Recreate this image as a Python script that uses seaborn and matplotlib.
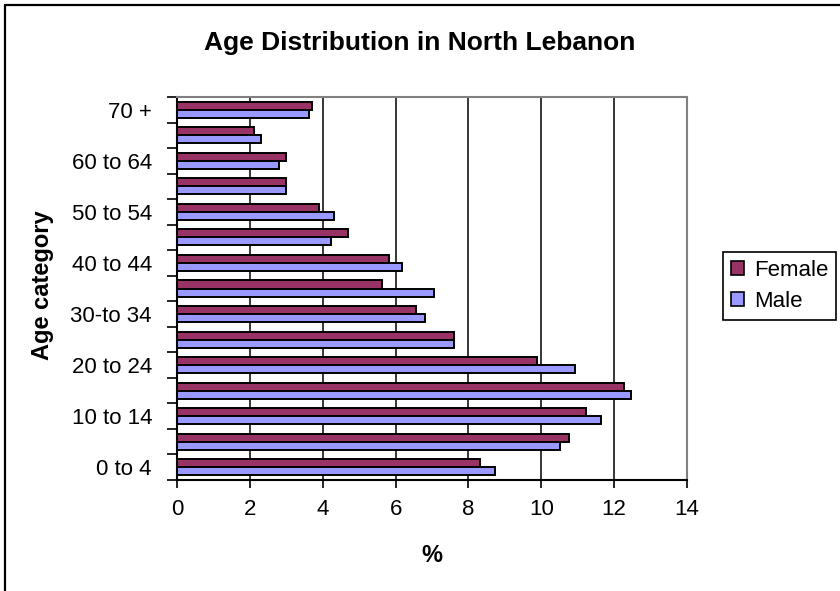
import numpy as np
import pandas as pd
import matplotlib
matplotlib.use("Agg")
import matplotlib.pyplot as plt
import seaborn as sns
from matplotlib.lines import Line2D
from matplotlib.patches import Patch

# Age bands, listed from the top of the chart downwards
age_groups = ["70 +", "65 to 69", "60 to 64", "55 to 59", "50 to 54",
              "45 to 49", "40 to 44", "35 to 39", "30-to 34", "25 to 29",
              "20 to 24", "15 to 19", "10 to 14", "5 to 9", "0 to 4"]
female_pct = [3.7, 2.1, 3.0, 3.0, 3.89, 4.69, 5.83, 5.64, 6.55, 7.61,
              9.89, 12.27, 11.24, 10.77, 8.31]
male_pct = [3.62, 2.3, 2.81, 3.0, 4.31, 4.23, 6.19, 7.05, 6.81, 7.61,
            10.93, 12.46, 11.65, 10.52, 8.74]
shown_labels = ["70 +", "60 to 64", "50 to 54", "40 to 44",
                "30-to 34", "20 to 24", "10 to 14", "0 to 4"]
x_ticks = [0, 2, 4, 6, 8, 10, 12, 14]

sexes = ["Female", "Male"]
colors = {"Female": "#993366", "Male": "#9999FF"}

df = pd.DataFrame({
    "age": age_groups * 2,
    "sex": ["Female"] * len(age_groups) + ["Male"] * len(age_groups),
    "pct": female_pct + male_pct,
})

sns.set_theme(style="white")
plt.rcParams["font.family"] = ["Liberation Sans", "DejaVu Sans"]
plt.rcParams["text.color"] = "black"
plt.rcParams["xtick.color"] = "black"
plt.rcParams["ytick.color"] = "black"
plt.rcParams["xtick.labelcolor"] = "black"
plt.rcParams["ytick.labelcolor"] = "black"

fig = plt.figure(figsize=(8.4, 5.91), dpi=100)
ax = fig.add_axes([177 / 840, 1 - 480 / 591, 510 / 840, 383 / 591])

sns.barplot(data=df, x="pct", y="age", hue="sex", order=age_groups,
            hue_order=sexes, palette=colors, orient="h", width=0.63,
            saturation=1, edgecolor="black", linewidth=1.4,
            errorbar=None, legend=False, ax=ax)

ax.set_xlim(0, 14)
ax.set_ylim(len(age_groups) - 0.5, -0.5)
ax.set_xticks(x_ticks)
ax.set_xticklabels([str(t) for t in x_ticks], fontsize=16)
ax.xaxis.grid(True, color="black", linewidth=1.1)
ax.yaxis.grid(False)
ax.set_axisbelow(True)

# Tick marks at band boundaries, labels on every other band
bounds = np.arange(-0.5, len(age_groups), 1.0)
ax.set_yticks(bounds)
ax.set_yticklabels([])
centers = [age_groups.index(lbl) for lbl in shown_labels]
ax.set_yticks(centers, minor=True)
ax.set_yticklabels(shown_labels, minor=True, fontsize=16)
ax.tick_params(axis="y", which="major", direction="out", length=7,
               width=1.2, color="black", left=True)
ax.tick_params(axis="y", which="minor", length=0, pad=18)
ax.tick_params(axis="x", direction="out", length=6, width=1.2,
               color="black", bottom=True, pad=8)
ax.set_xlabel("")
ax.set_ylabel("")

for side in ("left", "bottom"):
    ax.spines[side].set_color("black")
    ax.spines[side].set_linewidth(1.5)
for side in ("top", "right"):
    ax.spines[side].set_color("#808080")
    ax.spines[side].set_linewidth(1.5)

fig.text(0.5, 1 - 43 / 591, "Age Distribution in North Lebanon",
         ha="center", va="center", fontsize=19, fontweight="bold")
fig.text(432 / 840, 1 - 555 / 591, "%", ha="center", va="center",
         fontsize=17, fontweight="bold")
fig.text(43 / 840, 1 - 285 / 591, "Age category", ha="center",
         va="center", rotation=90, fontsize=17, fontweight="bold")

handles = [Patch(facecolor=colors[s], edgecolor="black", linewidth=1.2)
           for s in sexes]
leg = fig.legend(handles, sexes, loc="upper left",
                 bbox_to_anchor=(723 / 840, 1 - 252 / 591),
                 fontsize=16, frameon=True, fancybox=False,
                 edgecolor="black", framealpha=1, handlelength=0.6,
                 handleheight=0.6, handletextpad=0.45, borderpad=0.35,
                 labelspacing=0.45, borderaxespad=0)
leg.get_frame().set_linewidth(1.2)

# Outer chart frame
fig.add_artist(Line2D([4.5 / 840, 4.5 / 840], [0, 1 - 4.5 / 591],
                      color="black", linewidth=1.6))
fig.add_artist(Line2D([4.5 / 840, 1], [1 - 4.5 / 591, 1 - 4.5 / 591],
                      color="black", linewidth=1.6))

fig.savefig("out.png", dpi=100)
